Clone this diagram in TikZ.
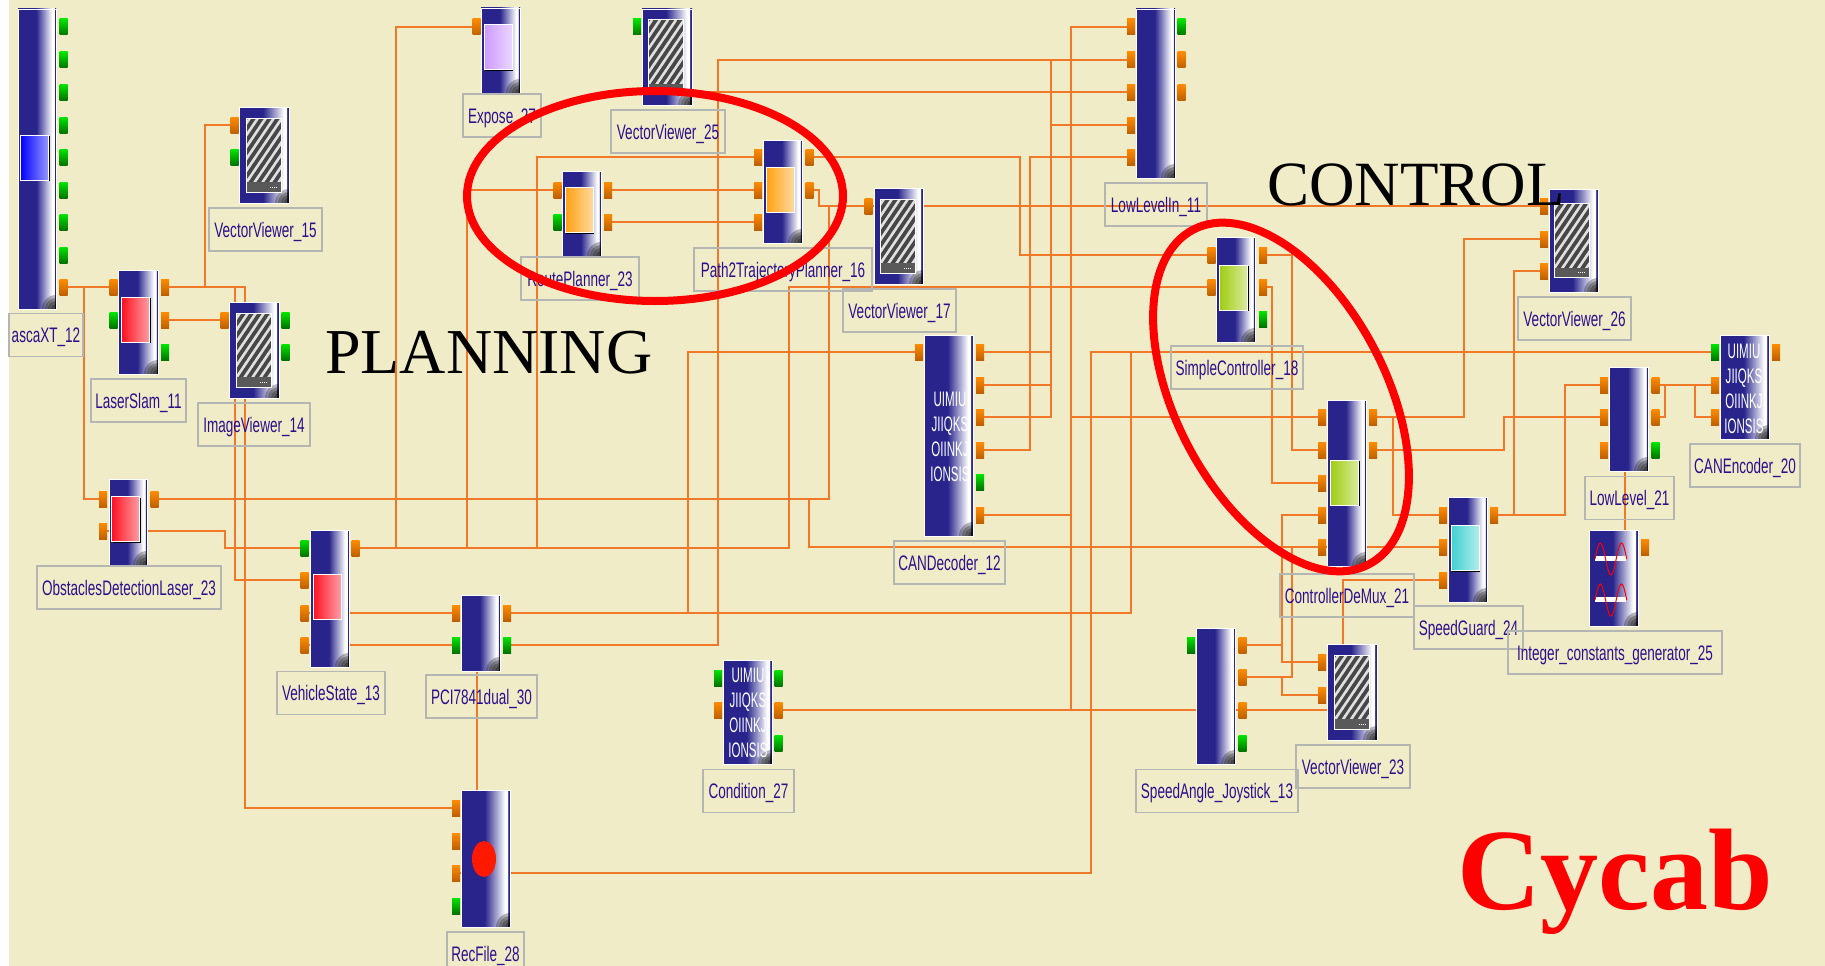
\documentclass[tikz,border=0pt]{standalone}
\usepackage{fontspec}
\usepackage{xcolor}
\usetikzlibrary{backgrounds,shadows,shapes.geometric}
\setmainfont{Liberation Serif}
\newfontfamily\lblfont[FakeStretch=0.645]{Liberation Sans}
\newfontfamily\codefont[FakeStretch=0.55]{Liberation Sans}
\definecolor{sheetbg}{HTML}{F0ECC8}
\definecolor{wirecol}{HTML}{F07828}
\definecolor{blockblue}{HTML}{28248C}
\definecolor{lblink}{HTML}{2C0F8C}
\definecolor{lblline}{HTML}{B4B6B4}
\definecolor{laserred}{HTML}{FF1020}
\definecolor{routeorange}{HTML}{FFA010}
\definecolor{ctrlgreen}{HTML}{A0CC10}
\definecolor{exposelilac}{HTML}{CC99FF}
\definecolor{guardcyan}{HTML}{40D0D0}
\pgfdeclarehorizontalshading{blockfade}{100bp}{color(0bp)=(blockblue); color(25bp)=(blockblue); color(49bp)=(blockblue); color(70bp)=(white); color(72.5bp)=(white); color(73bp)=(blockblue); color(75bp)=(blockblue); color(100bp)=(blockblue)}

\begin{document}
\begin{tikzpicture}[
  x=1pt, y=-1pt,
  block/.style={draw=white, line width=.6pt, shading=blockfade, inner sep=0pt, outer sep=0pt,
    path picture={\foreach \r in {14,11,8,5} \fill[black, opacity=.28] (path picture bounding box.south east) circle (\r pt);}},
  panel/.style={draw=white, line width=1pt, left color=#1, middle color=#1, right color=#1!40!white, minimum width=28pt, minimum height=45pt, inner sep=0pt,
    drop shadow={shadow xshift=1pt, shadow yshift=-1.2pt, opacity=1, fill=black}},
  screen/.style={draw=white, line width=1pt, fill=black!72, minimum width=35pt, minimum height=74pt, inner sep=0pt,
    path picture={
      \foreach \k in {-70,-62,...,40} \draw[white!88!black, line width=2.6pt] ([xshift=\k pt]path picture bounding box.south west) -- ++(50pt,74pt);
      \fill[black!65] ([yshift=10pt]path picture bounding box.south west) rectangle (path picture bounding box.south east);
      \draw[white, line width=1pt, densely dotted] ([xshift=-11pt,yshift=5pt]path picture bounding box.south east) -- ++(8pt,0);
    }},
  oport/.style={top color=orange!90!yellow, bottom color=orange!75!black, minimum width=8pt, minimum height=16pt, inner sep=0pt, outer sep=0pt},
  gport/.style={top color=green!90!black, bottom color=green!45!black, minimum width=8pt, minimum height=16pt, inner sep=0pt, outer sep=0pt},
  wire/.style={draw=wirecol, line width=1.6pt},
  lbl/.style={draw=lblline, line width=1.3pt, text=lblink, font=\lblfont\fontsize{21}{24}\selectfont, text height=15pt, text depth=0pt, minimum height=43pt, inner sep=0pt},
  codetxt/.style={text=white, font=\codefont\fontsize{21}{24.8}\selectfont, align=center, inner sep=0pt},
  ringnode/.style={ellipse, draw=red, line width=8pt, inner sep=0pt},
  heading/.style={text=black, font=\fontsize{63}{70}\selectfont, inner sep=0pt, anchor=base west},
]
  \useasboundingbox (0,0) rectangle (1825,966);

  % blocks
  \node[block, minimum width=38pt, minimum height=300pt] (flasca)   at (37,159) {};
  \node[block, minimum width=40pt, minimum height=104pt] (laser)    at (138,322) {};
  \node[block, minimum width=50pt, minimum height=96pt]  (vv15)     at (264,155) {};
  \node[block, minimum width=50pt, minimum height=96pt]  (image)    at (254,350) {};
  \node[block, minimum width=39pt, minimum height=85pt]  (expose)   at (500.5,50.5) {};
  \node[block, minimum width=39pt, minimum height=85pt]  (route)    at (581.5,213.5) {};
  \node[block, minimum width=50pt, minimum height=96pt]  (vv25)     at (667,57) {};
  \node[block, minimum width=39pt, minimum height=103pt] (path2t)   at (782.5,191.5) {};
  \node[block, minimum width=49pt, minimum height=96pt]  (vv17)     at (898.5,236) {};
  \node[block, minimum width=39pt, minimum height=169pt] (lowin)    at (1155.5,93.5) {};
  \node[block, minimum width=49pt, minimum height=201pt] (candec)   at (948.5,435.5) {};
  \node[block, minimum width=39pt, minimum height=105pt] (simple)   at (1235.5,289.5) {};
  \node[block, minimum width=49pt, minimum height=103pt] (vv26)     at (1573.5,240.5) {};
  \node[block, minimum width=39pt, minimum height=166pt] (demux)    at (1346.5,483) {};
  \node[block, minimum width=39pt, minimum height=105pt] (guard)    at (1467.5,549.5) {};
  \node[block, minimum width=39pt, minimum height=104pt] (lowlevel) at (1628.5,419) {};
  \node[block, minimum width=49pt, minimum height=104pt] (canenc)   at (1744.5,387) {};
  \node[block, minimum width=49pt, minimum height=96pt]  (intgen)   at (1613.5,578) {};
  \node[block, minimum width=50pt, minimum height=96pt]  (vv23)     at (1352,692) {};
  \node[block, minimum width=39pt, minimum height=136pt] (joystick) at (1215.5,696) {};
  \node[block, minimum width=38pt, minimum height=86pt]  (obstacle) at (128,522) {};
  \node[block, minimum width=39pt, minimum height=137pt] (vehicle)  at (329.5,598.5) {};
  \node[block, minimum width=39pt, minimum height=76pt]  (pci)      at (480.5,633) {};
  \node[block, minimum width=49pt, minimum height=137pt] (recfile)  at (485.5,858.5) {};
  \node[block, minimum width=49pt, minimum height=104pt] (cond)     at (747.5,712) {};

  % block faces
  \node[panel=blue]        (flascaFace)   at (34.5,157.5) {};
  \node[panel=laserred]    (laserFace)    at (135.5,319.5) {};
  \node[panel=exposelilac] (exposeFace)   at (498,47.5) {};
  \node[panel=routeorange] (routeFace)    at (579,210) {};
  \node[panel=routeorange] (path2tFace)   at (780,189.5) {};
  \node[panel=ctrlgreen]   (simpleFace)   at (1233.5,287.5) {};
  \node[panel=ctrlgreen]   (demuxFace)    at (1344.5,482.5) {};
  \node[panel=guardcyan]   (guardFace)    at (1465,548) {};
  \node[panel=laserred]    (obstacleFace) at (125.5,519) {};
  \node[panel=laserred]    (vehicleFace)  at (327,596.5) {};
  \node[screen] (vv15Scr)  at (263.5,155) {};
  \node[screen] (imageScr) at (253.5,350) {};
  \node[screen] (vv25Scr)  at (665.5,57) {};
  \node[screen] (vv17Scr)  at (897.5,236) {};
  \node[screen] (vv26Scr)  at (1571.5,240.5) {};
  \node[screen] (vv23Scr)  at (1352,692) {};
  \node[circle, fill=red!80!orange, minimum width=24pt, inner sep=0pt, yscale=1.5] (recDot) at (484,859) {};
  \node[codetxt] (candecCode) at (950,437) {UIMIU\\JIIQKS\\OIINKJ\\IONSIS};
  \node[codetxt] (canencCode) at (1744,389) {UIMIU\\JIIQKS\\OIINKJ\\IONSIS};
  \node[codetxt] (condCode)   at (748,713) {UIMIU\\JIIQKS\\OIINKJ\\IONSIS};
  \draw[white, line width=5pt] (1595,558) -- (1626,558);
  \draw[white, line width=5pt] (1595,599) -- (1626,599);
  \draw[red, line width=1pt] plot[smooth, samples=30, domain=0:540] ({1595+\x/17}, {559-16*sin(\x)});
  \draw[red, line width=1pt] plot[smooth, samples=30, domain=0:540] ({1595+\x/17}, {600-16*sin(\x)});

  % ports
  \node[gport] (flascaA) at (63.5,27) {};
  \node[gport] (flascaB) at (63.5,60) {};
  \node[gport] (flascaC) at (63.5,92) {};
  \node[gport] (flascaD) at (63.5,125) {};
  \node[gport] (flascaE) at (63.5,157) {};
  \node[gport] (flascaF) at (63.5,190) {};
  \node[gport] (flascaG) at (63.5,222) {};
  \node[gport] (flascaH) at (63.5,255) {};
  \node[oport] (flascaI) at (63.5,287) {};
  \node[oport] (laserInA)  at (113.5,287) {};
  \node[gport] (laserInB)  at (113.5,320) {};
  \node[oport] (laserOutA) at (165,287) {};
  \node[oport] (laserOutB) at (165,320) {};
  \node[gport] (laserOutC) at (165,352) {};
  \node[oport] (vv15A) at (234.5,125) {};
  \node[gport] (vv15B) at (234.5,157) {};
  \node[oport] (imageIn)   at (224.5,320) {};
  \node[gport] (imageOutA) at (285.5,320) {};
  \node[gport] (imageOutB) at (285.5,352) {};
  \node[oport] (exposeA) at (476.5,27) {};
  \node[oport] (routeInA)  at (557.5,190) {};
  \node[gport] (routeInB)  at (557.5,222) {};
  \node[oport] (routeOutA) at (608,190) {};
  \node[oport] (routeOutB) at (608,222) {};
  \node[gport] (vv25A) at (637,27) {};
  \node[oport] (path2tInA)  at (758,157) {};
  \node[oport] (path2tInB)  at (758,190) {};
  \node[oport] (path2tInC)  at (758,222) {};
  \node[oport] (path2tOutA) at (809.5,157) {};
  \node[oport] (path2tOutB) at (809.5,190) {};
  \node[oport] (vv17A) at (868.5,206) {};
  \node[oport] (lowinInA)  at (1131,27) {};
  \node[oport] (lowinInB)  at (1131,60) {};
  \node[oport] (lowinInC)  at (1131,92) {};
  \node[oport] (lowinInD)  at (1131,125) {};
  \node[oport] (lowinInE)  at (1131,157) {};
  \node[gport] (lowinOutA) at (1181.5,27) {};
  \node[oport] (lowinOutB) at (1181.5,60) {};
  \node[oport] (lowinOutC) at (1181.5,92) {};
  \node[oport] (candecIn)   at (919,352) {};
  \node[oport] (candecOutA) at (980,352) {};
  \node[oport] (candecOutB) at (980,385) {};
  \node[oport] (candecOutC) at (980,417) {};
  \node[oport] (candecOutD) at (980,450) {};
  \node[gport] (candecOutE) at (980,482) {};
  \node[oport] (candecOutF) at (980,515) {};
  \node[oport] (simpleInA)  at (1211.5,255) {};
  \node[oport] (simpleInB)  at (1211.5,287) {};
  \node[oport] (simpleOutA) at (1263,255) {};
  \node[oport] (simpleOutB) at (1263,287) {};
  \node[gport] (simpleOutC) at (1263,319) {};
  \node[oport] (vv26A) at (1544,206) {};
  \node[oport] (vv26B) at (1544,239) {};
  \node[oport] (vv26C) at (1544,271) {};
  \node[oport] (demuxInA)  at (1322,417) {};
  \node[oport] (demuxInB)  at (1322,450) {};
  \node[oport] (demuxInC)  at (1322,483) {};
  \node[oport] (demuxInD)  at (1322,515) {};
  \node[oport] (demuxInE)  at (1322,547) {};
  \node[oport] (demuxOutA) at (1373,417) {};
  \node[oport] (demuxOutB) at (1373,450) {};
  \node[oport] (guardInA)  at (1443,515) {};
  \node[oport] (guardInB)  at (1443,547) {};
  \node[oport] (guardInC)  at (1443,580) {};
  \node[oport] (guardOut)  at (1494,515) {};
  \node[oport] (lowlevelInA)  at (1604,385) {};
  \node[oport] (lowlevelInB)  at (1604,417) {};
  \node[oport] (lowlevelInC)  at (1604,450) {};
  \node[oport] (lowlevelOutA) at (1655.5,385) {};
  \node[oport] (lowlevelOutB) at (1655.5,417) {};
  \node[gport] (lowlevelOutC) at (1655.5,450) {};
  \node[gport] (canencInA) at (1715,352) {};
  \node[oport] (canencInB) at (1715,385) {};
  \node[oport] (canencInC) at (1715,417) {};
  \node[oport] (canencOut) at (1776,352) {};
  \node[oport] (intgenOut) at (1645,547) {};
  \node[oport] (vv23A) at (1322,662) {};
  \node[oport] (vv23B) at (1322,695) {};
  \node[gport] (joystickIn)   at (1191,645) {};
  \node[oport] (joystickOutA) at (1242.5,645) {};
  \node[oport] (joystickOutB) at (1242.5,677) {};
  \node[oport] (joystickOutC) at (1242.5,710) {};
  \node[gport] (joystickOutD) at (1242.5,743) {};
  \node[oport] (obstacleInA) at (103,499) {};
  \node[oport] (obstacleInB) at (103,531) {};
  \node[oport] (obstacleOut) at (154.5,499) {};
  \node[gport] (vehicleInA) at (304.5,548) {};
  \node[oport] (vehicleInB) at (304.5,580) {};
  \node[oport] (vehicleInC) at (304.5,613) {};
  \node[oport] (vehicleInD) at (304.5,645) {};
  \node[oport] (vehicleOut) at (355.5,548) {};
  \node[oport] (pciInA)  at (456,613) {};
  \node[gport] (pciInB)  at (456,645) {};
  \node[oport] (pciOutA) at (507,613) {};
  \node[gport] (pciOutB) at (507,645) {};
  \node[oport] (recInA) at (456,808) {};
  \node[oport] (recInB) at (456,841) {};
  \node[oport] (recInC) at (456,873) {};
  \node[gport] (recInD) at (456,906) {};
  \node[gport] (condInA)  at (718,678) {};
  \node[oport] (condInB)  at (718,710) {};
  \node[gport] (condOutA) at (778.5,678) {};
  \node[oport] (condOutB) at (778.5,710) {};
  \node[gport] (condOutC) at (778.5,743) {};

  \coordinate (pciDrop)    at (477,671);
  \coordinate (recTop)     at (477,790);
  \coordinate (lowlvlDrop) at (1625,471);
  \coordinate (intgenTop)  at (1625,530);
  \coordinate (vv23Top)    at (1343,644);

  % connectors
  \begin{scope}[on background layer]
    \fill[white] (0,0) rectangle (1825,966);
    \fill[sheetbg] (9,0) rectangle (1825,966);
    \draw[wire] (flascaI) -- (laserInA);
    \draw[wire] (84,287) |- (obstacleInA);
    \draw[wire] (laserOutA) -- (245,287) |- (recInA);
    \draw[wire] (205,287) |- (vv15A);
    \draw[wire] (235,287) |- (vehicleInB);
    \draw[wire] (laserOutB) -- (imageIn);
    \draw[wire] (obstacleOut) -- (829,499) |- (vv17A);
    \draw[wire] (path2tOutB) -- (819,190) |- (vv17A);
    \draw[wire] (809,499) |- (guardInB);
    \draw[wire] (obstacleInB) -- (225,531) |- (vehicleInA);
    \draw[wire] (vehicleOut) -- (789,548) |- (simpleInB);
    \draw[wire] (396,548) |- (exposeA);
    \draw[wire] (467,548) |- (routeInA);
    \draw[wire] (537,548) |- (path2tInA);
    \draw[wire] (vehicleInC) -- (pciInA);
    \draw[wire] (vehicleInD) -- (pciInB);
    \draw[wire] (pciOutA) -- (1131,613) -- (1131,352);
    \draw[wire] (688,613) |- (candecIn);
    \draw[wire] (pciOutB) -- (718,645) |- (lowinInB);
    \draw[wire] (vv25.east |- lowinInC) -- (lowinInC);
    \draw[wire] (path2tOutA) -- (1020,157) |- (simpleInA);
    \draw[wire] (routeOutA) -- (path2tInB);
    \draw[wire] (routeOutB) -- (path2tInC);
    \draw[wire] (vv17A) -- (vv26A);
    \draw[wire] (candecOutA) -- (1051,352);
    \draw[wire] (candecOutB) -- (1051,385);
    \draw[wire] (candecOutC) -- (1051,417) -- (1051,60);
    \draw[wire] (candecOutD) -- (1030,450) |- (lowinInE);
    \draw[wire] (1051,125) -- (lowinInD);
    \draw[wire] (condOutB) -- (vv23.west |- condOutB);
    \draw[wire] (1071,710) |- (lowinInA);
    \draw[wire] (candecOutF) -- (1071,515);
    \draw[wire] (1071,417) -- (demuxInA);
    \draw[wire] (recInC) -- (1091,873) |- (canencInA);
    \draw[wire] (simpleOutA) -- (1292,255) |- (demuxInB);
    \draw[wire] (simpleOutB) -- (1272,287) |- (demuxInC);
    \draw[wire] (demuxOutA) -- (1464,417) |- (vv26B);
    \draw[wire] (1393,417) |- (guardInA);
    \draw[wire] (demuxOutB) -- (1504,450) |- (lowlevelInB);
    \draw[wire] (guardOut) -- (1565,515) |- (lowlevelInA);
    \draw[wire] (1514,515) |- (vv26C);
    \draw[wire] (lowlevelOutA) -- (canencInB);
    \draw[wire] (1695,385) |- (canencInC);
    \draw[wire] (lowlevelOutB) -- (1665,417) -- (1665,385);
    \draw[wire] (guardInC) -- (1343,580) -- (vv23Top);
    \draw[wire] (demuxInD) -- (1282,515) |- (vv23A);
    \draw[wire] (joystickOutA) -- (1282,645);
    \draw[wire] (joystickOutB) -- (1292,677) -- (1292,547);
    \draw[wire] (1282,677) |- (vv23B);
    \draw[wire] (lowlvlDrop) -- (intgenTop);
    \draw[wire] (pciDrop) -- (recTop);
  \end{scope}

  % labels
  \node[lbl, minimum width=74pt]  (flascaLbl)   at (46,335)      {ascaXT\_12};
  \node[lbl, minimum width=95pt]  (laserLbl)    at (138.5,400.5) {LaserSlam\_11};
  \node[lbl, minimum width=113pt] (vv15Lbl)     at (265.5,229.5) {VectorViewer\_15};
  \node[lbl, minimum width=112pt] (imageLbl)    at (254,424.5)   {ImageViewer\_14};
  \node[lbl, minimum width=78pt]  (exposeLbl)   at (502,115.5)   {Expose\_27};
  \node[lbl, minimum width=118pt] (routeLbl)    at (580,278.5)   {RoutePlanner\_23};
  \node[lbl, minimum width=114pt] (vv25Lbl)     at (668,131.5)   {VectorViewer\_25};
  \node[lbl, minimum width=178pt] (path2tLbl)   at (783,269.5)   {Path2TrajectoryPlanner\_16};
  \node[lbl, minimum width=113pt] (vv17Lbl)     at (899.5,310.5) {VectorViewer\_17};
  \node[lbl, minimum width=102pt] (lowinLbl)    at (1156,204.5)  {LowLevelIn\_11};
  \node[lbl, minimum width=111pt] (candecLbl)   at (949.5,562.5) {CANDecoder\_12};
  \node[lbl, minimum width=132pt] (simpleLbl)   at (1237,367.5)  {SimpleController\_18};
  \node[lbl, minimum width=113pt] (vv26Lbl)     at (1574.5,318.5) {VectorViewer\_26};
  \node[lbl, minimum width=134pt] (demuxLbl)    at (1347,595.5)  {ControllerDeMux\_21};
  \node[lbl, minimum width=109pt] (guardLbl)    at (1468.5,627.5) {SpeedGuard\_24};
  \node[lbl, minimum width=89pt]  (lowlevelLbl) at (1629.5,498)  {LowLevel\_21};
  \node[lbl, minimum width=110pt] (canencLbl)   at (1745,465.5)  {CANEncoder\_20};
  \node[lbl, minimum width=214pt] (intgenLbl)   at (1615,652.5)  {Integer\_constants\_generator\_25};
  \node[lbl, minimum width=114pt] (vv23Lbl)     at (1353,766.5)  {VectorViewer\_23};
  \node[lbl, minimum width=162pt] (joystickLbl) at (1217,791)    {SpeedAngle\_Joystick\_13};
  \node[lbl, minimum width=184pt] (obstacleLbl) at (129,587.5)   {ObstaclesDetectionLaser\_23};
  \node[lbl, minimum width=108pt] (vehicleLbl)  at (331,693)     {VehicleState\_13};
  \node[lbl, minimum width=111pt] (pciLbl)      at (481.5,696.5) {PCI7841dual\_30};
  \node[lbl, minimum width=77pt]  (recfileLbl)  at (485.5,953.5) {RecFile\_28};
  \node[lbl, minimum width=91pt]  (condLbl)     at (748.5,791)   {Condition\_27};

  % circled groups and titles
  \node[ringnode, minimum width=376pt, minimum height=210pt] (planRing) at (655,196) {};
  \node[ringnode, minimum width=378pt, minimum height=210pt, rotate=-62.3] (ctrlRing) at (1281,397) {};
  \node[heading, font=\fontsize{64}{70}\selectfont] (planTitle) at (325,373) {PLANNING};
  \node[heading] (ctrlTitle) at (1267,205) {CONTROL};
  \node[heading, text=red, font=\bfseries\fontsize{116}{120}\selectfont] (cycabTitle) at (1457,909) {Cycab};
\end{tikzpicture}
\end{document}
